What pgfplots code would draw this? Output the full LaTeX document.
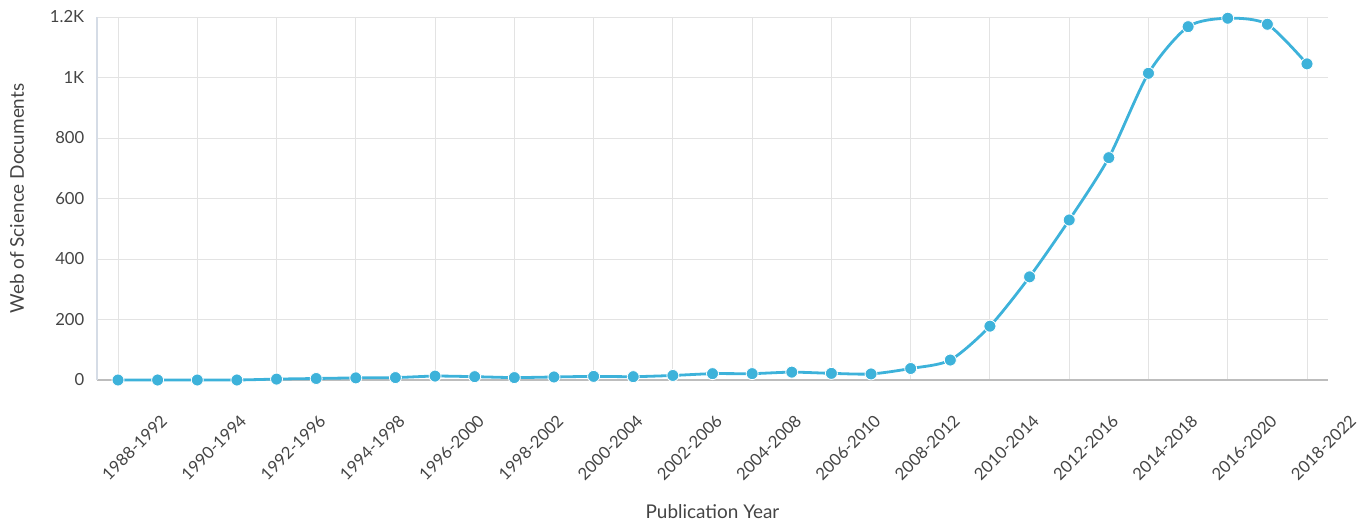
\documentclass[border=0pt]{standalone}
\usepackage{pgfplots}
\pgfplotsset{compat=1.18}
\usepackage{fontspec}
\setmainfont{Lato}
\definecolor{linec}{HTML}{3DB2DA}
\definecolor{gridc}{HTML}{E3E3E3}
\definecolor{txtc}{HTML}{444444}
\definecolor{yaxc}{HTML}{D5DCE6}
\definecolor{xaxc}{HTML}{BDBDBD}
\begin{document}
\begin{tikzpicture}
\begin{axis}[
  at={(0,0)}, anchor=south west,
  scale only axis,
  width=923.25pt, height=272.25pt,
  xmin=-0.53, xmax=30.53,
  ymin=0, ymax=1200,
  xtick={0,2,...,30},
  xticklabels={1988-1992,1990-1994,1992-1996,1994-1998,1996-2000,1998-2002,2000-2004,2002-2006,2004-2008,2006-2010,2008-2012,2010-2014,2012-2016,2014-2018,2016-2020,2018-2022},
  ytick={0,200,400,600,800,1000,1200},
  yticklabels={0,200,400,600,800,1K,1.2K},
  major tick length=0pt,
  grid=major,
  major grid style={gridc, line width=0.75pt},
  axis x line*=bottom, axis y line*=left,
  x axis line style={xaxc, line width=0.9pt, -},
  y axis line style={yaxc, line width=0.9pt, -},
  ticklabel style={font=\fontsize{12.5pt}{14pt}\selectfont, text=txtc},
  xticklabel style={xshift=37pt, yshift=-26pt, rotate=45, anchor=east},
  yticklabel style={anchor=east, xshift=-6pt},
  xlabel={Publication Year},
  ylabel={Web of Science Documents},
  label style={font=\fontsize{14.2pt}{16pt}\selectfont, text=txtc},
  xlabel style={at={(axis description cs:0.5,0)}, anchor=center, yshift=-99pt},
  ylabel style={at={(axis description cs:0,0.5)}, anchor=center, yshift=60pt},
  clip=false,
]
\addplot[linec, line width=2.1pt, smooth, tension=0.45, mark=*, mark size=4.5pt,
  mark options={fill=linec, draw=white, line width=0.6pt}]
coordinates {
(0,0) (1,0) (2,0) (3,0) (4,3) (5,5) (6,7) (7,8) (8,13) (9,11)
(10,8) (11,10) (12,12) (13,11) (14,15) (15,21) (16,21) (17,26) (18,22) (19,20)
(20,38) (21,66) (22,178) (23,341) (24,529) (25,735) (26,1014) (27,1168) (28,1196) (29,1176)
(30,1045)
};
\end{axis}
\pgfresetboundingbox
\path[use as bounding box] (-72.75pt,-106.5pt) rectangle (950.25pt,285pt);
\end{tikzpicture}
\end{document}
